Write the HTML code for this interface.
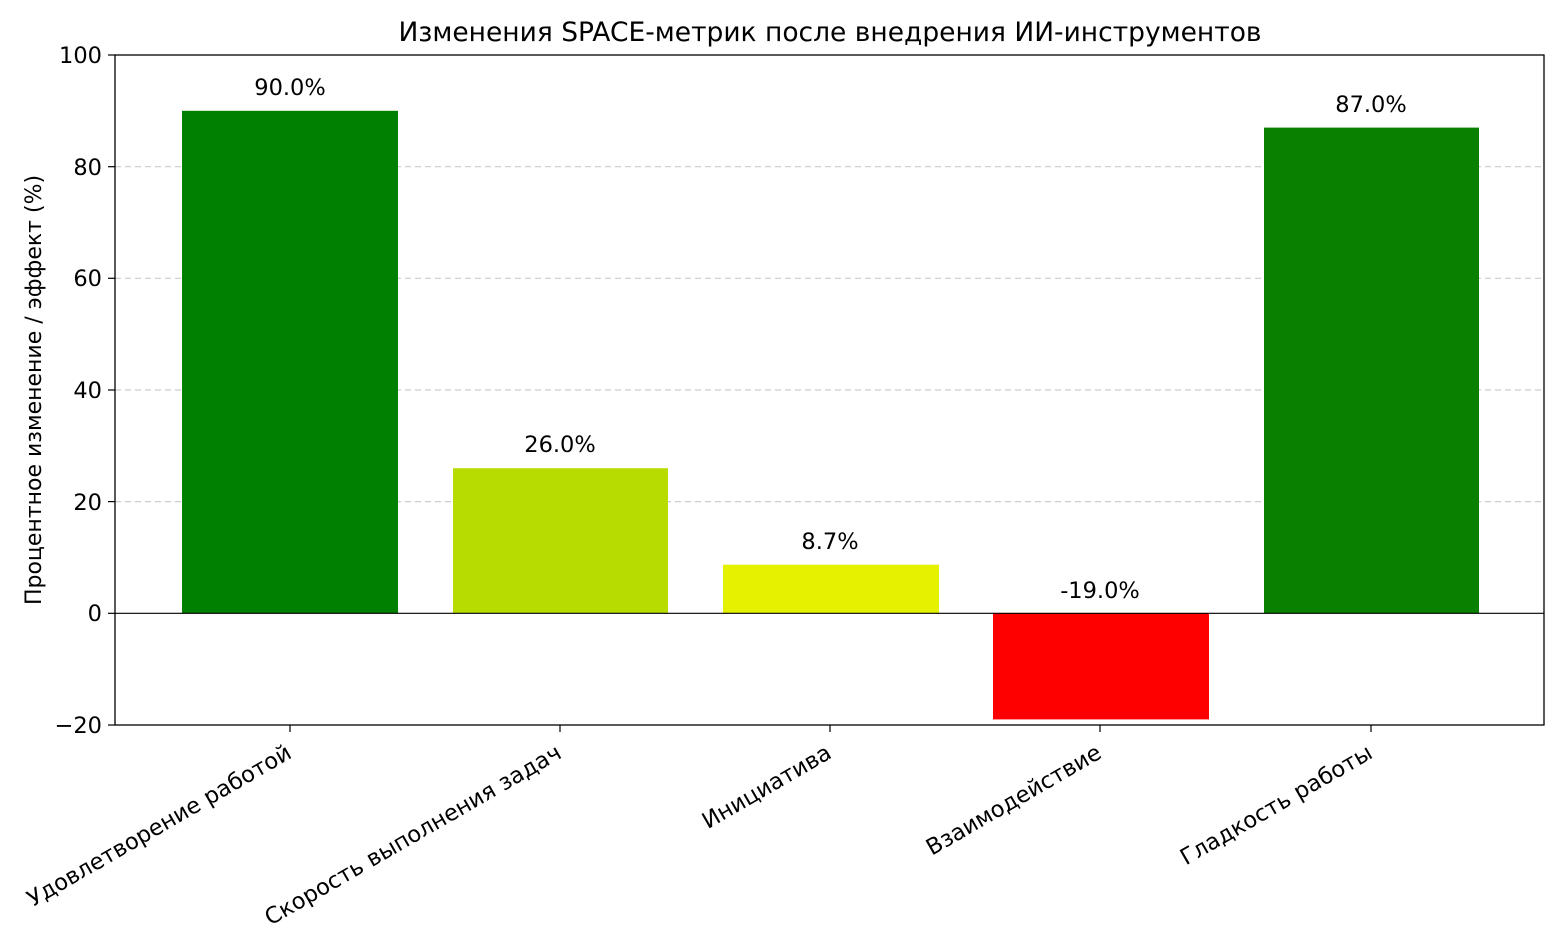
<!DOCTYPE html>
<html><head><meta charset="utf-8"><style>
html,body{margin:0;padding:0;background:#fff;}
svg{display:block;font-family:"DejaVu Sans","Liberation Sans",sans-serif;}
</style></head><body>
<svg width="1560" height="930" viewBox="0 0 1560 930" xmlns="http://www.w3.org/2000/svg">
<rect width="1560" height="930" fill="#fff"/>
<text x="830" y="41" font-size="26.5" text-anchor="middle" fill="#000">Изменения SPACE-метрик после внедрения ИИ-инструментов</text>
<g stroke="#ccc" stroke-width="1.2" stroke-dasharray="6,4">
<line x1="115" x2="1544" y1="501.6" y2="501.6"/>
<line x1="115" x2="1544" y1="390" y2="390"/>
<line x1="115" x2="1544" y1="278.3" y2="278.3"/>
<line x1="115" x2="1544" y1="166.7" y2="166.7"/>
</g>
<rect x="182" y="110.8" width="216" height="502.5" fill="#008000"/>
<rect x="453" y="468.2" width="215" height="145.1" fill="#b7dd00"/>
<rect x="723" y="564.7" width="216" height="48.6" fill="#e4f200"/>
<rect x="993" y="613.3" width="216" height="106.1" fill="#ff0000"/>
<rect x="1264" y="127.6" width="215" height="485.7" fill="#0a8000"/>
<line x1="115" x2="1544" y1="613.3" y2="613.3" stroke="#000" stroke-width="1.2"/>
<rect x="115" y="55" width="1429" height="670" fill="none" stroke="#000" stroke-width="1.3"/>
<g font-size="22.5" text-anchor="middle" fill="#000">
<text x="290" y="95">90.0%</text>
<text x="560" y="452">26.0%</text>
<text x="830" y="549">8.7%</text>
<text x="1100" y="598">-19.0%</text>
<text x="1371" y="112">87.0%</text>
</g>
<g stroke="#000" stroke-width="1.2">
<line x1="108" x2="115" y1="55" y2="55"/><line x1="108" x2="115" y1="166.7" y2="166.7"/>
<line x1="108" x2="115" y1="278.3" y2="278.3"/><line x1="108" x2="115" y1="390" y2="390"/>
<line x1="108" x2="115" y1="501.6" y2="501.6"/><line x1="108" x2="115" y1="613.3" y2="613.3"/>
<line x1="108" x2="115" y1="725" y2="725"/>
<line x1="290" x2="290" y1="725" y2="732"/><line x1="560" x2="560" y1="725" y2="732"/>
<line x1="830" x2="830" y1="725" y2="732"/><line x1="1100" x2="1100" y1="725" y2="732"/>
<line x1="1371" x2="1371" y1="725" y2="732"/>
</g>
<g font-size="22.5" text-anchor="end" fill="#000">
<text x="102" y="63">100</text><text x="102" y="175">80</text><text x="102" y="286">60</text>
<text x="102" y="398">40</text><text x="102" y="510">20</text><text x="102" y="621">0</text>
<text x="102" y="733">−20</text>
</g>
<text transform="translate(41,390) rotate(-90)" font-size="22" text-anchor="middle">Процентное изменение / эффект (%)</text>
<g font-size="22.5" text-anchor="end" fill="#000">
<text transform="translate(293,757) rotate(-30)">Удовлетворение работой</text>
<text transform="translate(563,757) rotate(-30)">Скорость выполнения задач</text>
<text transform="translate(833,757) rotate(-30)">Инициатива</text>
<text transform="translate(1103,757) rotate(-30)">Взаимодействие</text>
<text transform="translate(1374,757) rotate(-30)">Гладкость работы</text>
</g>
</svg>
</body></html>
